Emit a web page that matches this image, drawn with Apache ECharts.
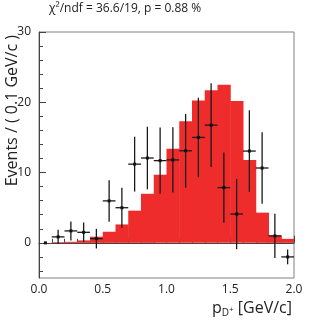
<!DOCTYPE html>
<html>
<head>
<meta charset="utf-8">
<script src="https://cdn.jsdelivr.net/npm/echarts@6/dist/echarts.min.js"></script>
<style>html,body{margin:0;padding:0;background:#fff}#c{width:327px;height:321px}</style>
</head>
<body>
<div id="c"></div>
<script>
var binWidth = 0.1;
var binLowEdges = [0.0,0.1,0.2,0.3,0.4,0.5,0.6,0.7,0.8,0.9,1.0,1.1,1.2,1.3,1.4,1.5,1.6,1.7,1.8,1.9];
var histValues = [0, 0.1, 0.15, 0.35, 0.88, 1.58, 2.62, 4.58, 6.98, 9.7, 13.4, 17.3, 20.27, 21.7, 22.5, 20.2, 11.8, 4.3, 1.06, 0.57];
var dataValues = [0, 0.85, 1.7, 1.5, 0.6, 5.97, 5.0, 11.2, 12.07, 11.7, 11.8, 13.1, 15.0, 16.75, 7.86, 4.1, 13.06, 10.65, 0.99, -2.0];
var dataErrors = [0, 1.0, 1.35, 1.4, 1.4, 2.95, 2.85, 3.9, 4.45, 4.7, 4.65, 5.25, 5.65, 5.95, 5.0, 5.0, 5.8, 5.1, 3.15, 1.05];
var yMajorTicks = [0, 10, 20, 30];
var yMinorTicks = [-4, -2, 2, 4, 6, 8, 12, 14, 16, 18, 22, 24, 26, 28];
var titleText = 'χ²/ndf = 36.6/19, p = 0.88 %';

var FONT = 'Open Sans';
var chart = echarts.init(document.getElementById('c'), null, {renderer: 'canvas'});

var histData = binLowEdges.map(function (x, i) { return [x, histValues[i]]; });
var pointData = binLowEdges.map(function (x, i) { return [x + binWidth / 2, dataValues[i], dataErrors[i]]; });

chart.setOption({
  animation: false,
  grid: {left: 39, top: 32, right: 33, bottom: 43, show: true, borderColor: '#808080', borderWidth: 1, backgroundColor: 'transparent'},
  xAxis: {
    type: 'value', min: 0, max: 2, interval: 0.5,
    axisLine: {show: true, lineStyle: {color: '#444'}},
    axisTick: {show: true, inside: true, length: 7, lineStyle: {color: '#444'}},
    minorTick: {show: true, splitNumber: 5, length: 4, lineStyle: {color: '#444'}},
    axisLabel: {fontFamily: FONT, fontSize: 12, color: '#222', margin: 6, formatter: function (v) { return v.toFixed(1); }},
    splitLine: {show: false}
  },
  yAxis: [{
    type: 'value', min: -5, max: 30,
    axisLine: {show: true, lineStyle: {color: '#444'}},
    axisTick: {show: true, inside: true, length: 7, customValues: yMajorTicks, lineStyle: {color: '#444'}},
    axisLabel: {fontFamily: FONT, fontSize: 12, color: '#222', margin: 8, customValues: yMajorTicks},
    splitLine: {show: false}
  }, {
    type: 'value', min: -5, max: 30, position: 'left',
    axisLine: {show: false},
    axisTick: {show: true, inside: true, length: 4, customValues: yMinorTicks, lineStyle: {color: '#444'}},
    axisLabel: {show: false, customValues: yMinorTicks},
    splitLine: {show: false}
  }],
  graphic: [
    {type: 'text', left: 49, top: 3, style: {text: titleText, fontFamily: FONT, fontSize: 12, fill: '#222'}},
    {type: 'text', x: 12, y: 35, rotation: Math.PI / 2, style: {text: 'Events / ( 0.1 GeV/c )', fontFamily: FONT, fontSize: 16, fill: '#222', align: 'right', verticalAlign: 'middle'}},
    {type: 'text', x: 292, y: 308, style: {
      text: '{p|p}{sub|D}{sup|+}{p| [GeV/c]}', align: 'right', verticalAlign: 'middle',
      rich: {
        p: {fontFamily: FONT, fontSize: 16, fill: '#222'},
        sub: {fontFamily: FONT, fontSize: 10, fill: '#222', padding: [10, 0, 0, 0]},
        sup: {fontFamily: FONT, fontSize: 8, fill: '#222', padding: [4, 0, 0, 0]}
      }
    }}
  ],
  series: [{
    type: 'custom',
    clip: true,
    data: histData,
    renderItem: function (params, api) {
      var x0 = api.value(0), v = api.value(1);
      var p0 = api.coord([x0, 0]);
      var p1 = api.coord([x0 + binWidth, v]);
      return {
        type: 'rect',
        shape: {x: p0[0], y: Math.min(p0[1], p1[1]), width: p1[0] - p0[0] + 0.5, height: Math.abs(p0[1] - p1[1])},
        style: {fill: '#ee2c2c'}
      };
    }
  }, {
    type: 'custom',
    clip: true,
    data: pointData,
    z: 5,
    renderItem: function (params, api) {
      var x = api.value(0), y = api.value(1), e = api.value(2);
      var c = api.coord([x, y]);
      var top = api.coord([x, y + e]);
      var bot = api.coord([x, y - e]);
      var l = api.coord([x - binWidth / 2, y]);
      var r = api.coord([x + binWidth / 2, y]);
      var children = [];
      if (e > 0) {
        children.push({type: 'line', shape: {x1: c[0], y1: top[1], x2: c[0], y2: bot[1]}, style: {stroke: '#1a1a1a', lineWidth: 1.3}});
        children.push({type: 'line', shape: {x1: l[0], y1: c[1], x2: r[0], y2: c[1]}, style: {stroke: '#1a1a1a', lineWidth: 1.3}});
      }
      children.push({type: 'rect', shape: {x: c[0] - 1.5, y: c[1] - 1.5, width: 3, height: 3}, style: {fill: '#111'}});
      return {type: 'group', children: children};
    }
  }]
});
</script>
</body>
</html>
